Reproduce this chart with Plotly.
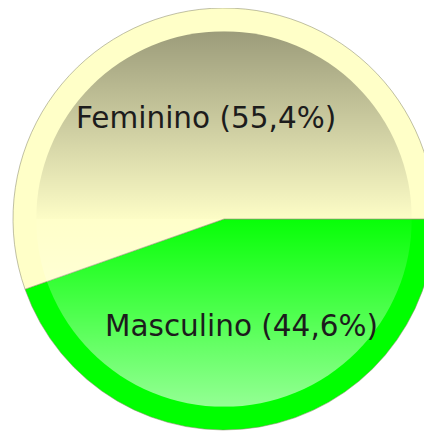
import base64
import math
import plotly.graph_objects as go

# ---- data ----
labels = ["Masculino", "Feminino"]
values = [44.6, 55.4]
ring_colors = ["#00FF00", "#FFFFC8"]

W, H = 432, 431
# pie domain in figure pixels (left, right, top, bottom from top)
dom_x = [4 / W, 428 / W]
dom_y = [(H - 422) / H, 1.0]
ROTATION = 90  # first slice starts at 3 o'clock

fig = go.Figure(
    go.Pie(
        labels=labels,
        values=values,
        sort=False,
        direction="clockwise",
        rotation=ROTATION,
        marker=dict(colors=ring_colors, line=dict(color="rgba(140,140,110,0.55)", width=1)),
        textinfo="none",
        hoverinfo="label+percent",
        showlegend=False,
        domain=dict(x=dom_x, y=dom_y),
    )
)

# pie geometry in pixels (from bottom-left of figure)
px_w = (dom_x[1] - dom_x[0]) * W
px_h = (dom_y[1] - dom_y[0]) * H
R = min(px_w, px_h) / 2
cx = (dom_x[0] + dom_x[1]) / 2 * W
cy = (dom_y[0] + dom_y[1]) / 2 * H
r_in = R * 0.89

# vertical shading overlay on the inner disc (gloss effect)
svg = """<svg xmlns='http://www.w3.org/2000/svg' viewBox='0 0 100 100' preserveAspectRatio='none'>
<defs><linearGradient id='g' x1='0' y1='0' x2='0' y2='1'>
<stop offset='0' stop-color='#000' stop-opacity='0.39'/>
<stop offset='0.5' stop-color='#000' stop-opacity='0.01'/>
<stop offset='0.5' stop-color='#fff' stop-opacity='0.03'/>
<stop offset='1' stop-color='#fff' stop-opacity='0.58'/>
</linearGradient></defs>
<circle cx='50' cy='50' r='50' fill='url(#g)'/></svg>"""
src = "data:image/svg+xml;base64," + base64.b64encode(svg.encode()).decode()
fig.add_layout_image(
    source=src, xref="paper", yref="paper",
    x=(cx - r_in) / W, y=(cy + r_in) / H,
    sizex=2 * r_in / W, sizey=2 * r_in / H,
    xanchor="left", yanchor="top", sizing="stretch", layer="above",
)

# labels at the middle angle of each slice
total = sum(values)
start = 0.0
for lab, val in zip(labels, values):
    mid = start + val / total * 360 / 2
    start += val / total * 360
    ang = math.radians(90 - ROTATION - mid)  # clockwise pie -> math angle
    x = cx + 0.5 * R * math.cos(ang)
    y = cy + 0.5 * R * math.sin(ang)
    pct = f"{val / total * 100:.1f}".replace(".", ",")
    fig.add_annotation(
        x=x / W, y=y / H, xref="paper", yref="paper",
        text=f"{lab} ({pct}%)", showarrow=False,
        xanchor="center", yanchor="middle", yshift=-3,
        font=dict(family="DejaVu Sans", size=29.5, color="#1c1c1c"),
    )

fig.update_layout(
    width=W, height=H,
    margin=dict(l=0, r=0, t=0, b=0),
    paper_bgcolor="white",
    separators=",.",
)

fig.write_html("out.html")
